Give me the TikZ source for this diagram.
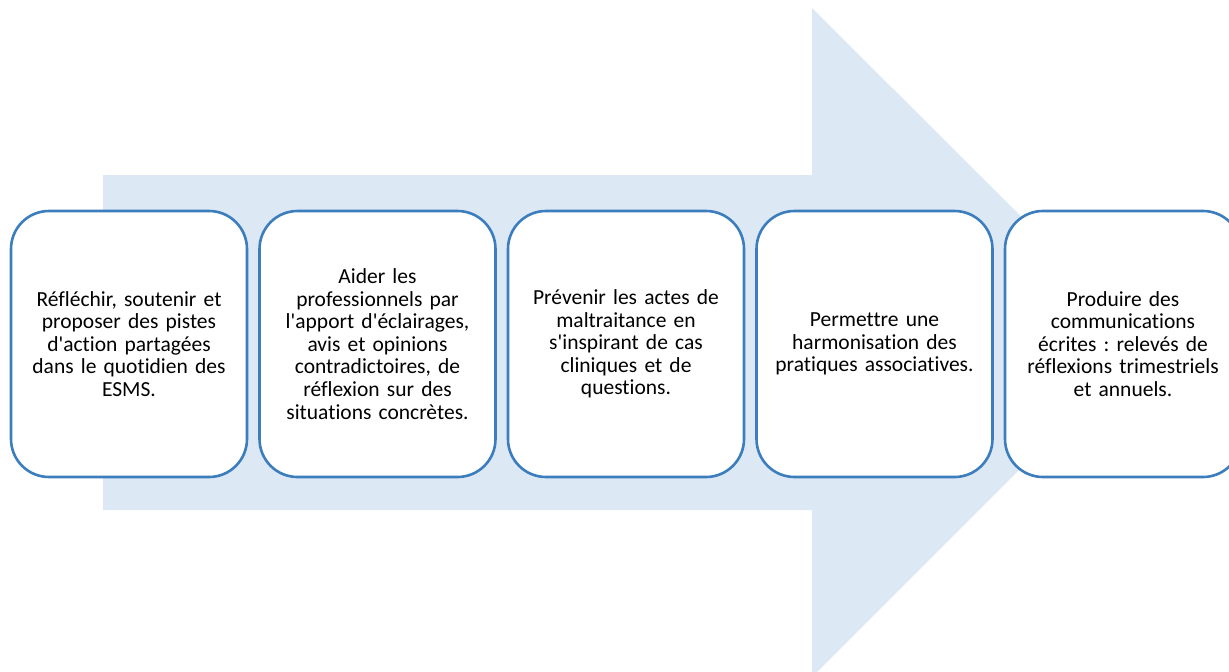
\documentclass[tikz,border=0pt]{standalone}
\usepackage{fontspec}
\setmainfont{Carlito}[Ligatures={CommonOff,TeXOff}]
\usepackage{tikz}
\usetikzlibrary{positioning,calc}
\definecolor{bordbleu}{HTML}{3B7DBD}
\definecolor{fondbleu}{HTML}{DDE8F5}
\tikzstyle{objectif} = [rectangle, rounded corners=38pt, minimum width=236pt, minimum height=266pt,
text width=224pt, align=center, draw=bordbleu, line width=2.6pt, fill=white,
font=\fontsize{21.5}{22.6}\selectfont\frenchspacing]

\begin{document}
\begin{tikzpicture}[x=1pt,y=-1pt]
\useasboundingbox (0,0) rectangle (1229,672);
% grande fleche de fond
\fill[fondbleu] (103,175) -- (812,175) -- (812,8) -- (1147,342) -- (812,677) -- (812,510) -- (103,510) -- cycle;
% les cinq objectifs
\node (o1) at (129,344) [objectif] {Réfléchir, soutenir et\\proposer des pistes\\d'action partagées\\dans le quotidien des\\ESMS.};
\node (o2) at (377.5,344) [objectif] {Aider les\\professionnels par\\l'apport d'éclairages,\\avis et opinions\\contradictoires, de\\réflexion sur des\\situations concrètes.};
\node (o3) at (626,344) [objectif] {Prévenir les actes de\\maltraitance en\\s'inspirant de cas\\cliniques et de\\questions.};
\node (o4) at (874.5,344) [objectif] {Permettre une\\harmonisation des\\pratiques associatives.};
\node (o5) at (1123,344) [objectif] {Produire des\\communications\\écrites : relevés de\\réflexions trimestriels\\et annuels.};
\end{tikzpicture}
\end{document}
